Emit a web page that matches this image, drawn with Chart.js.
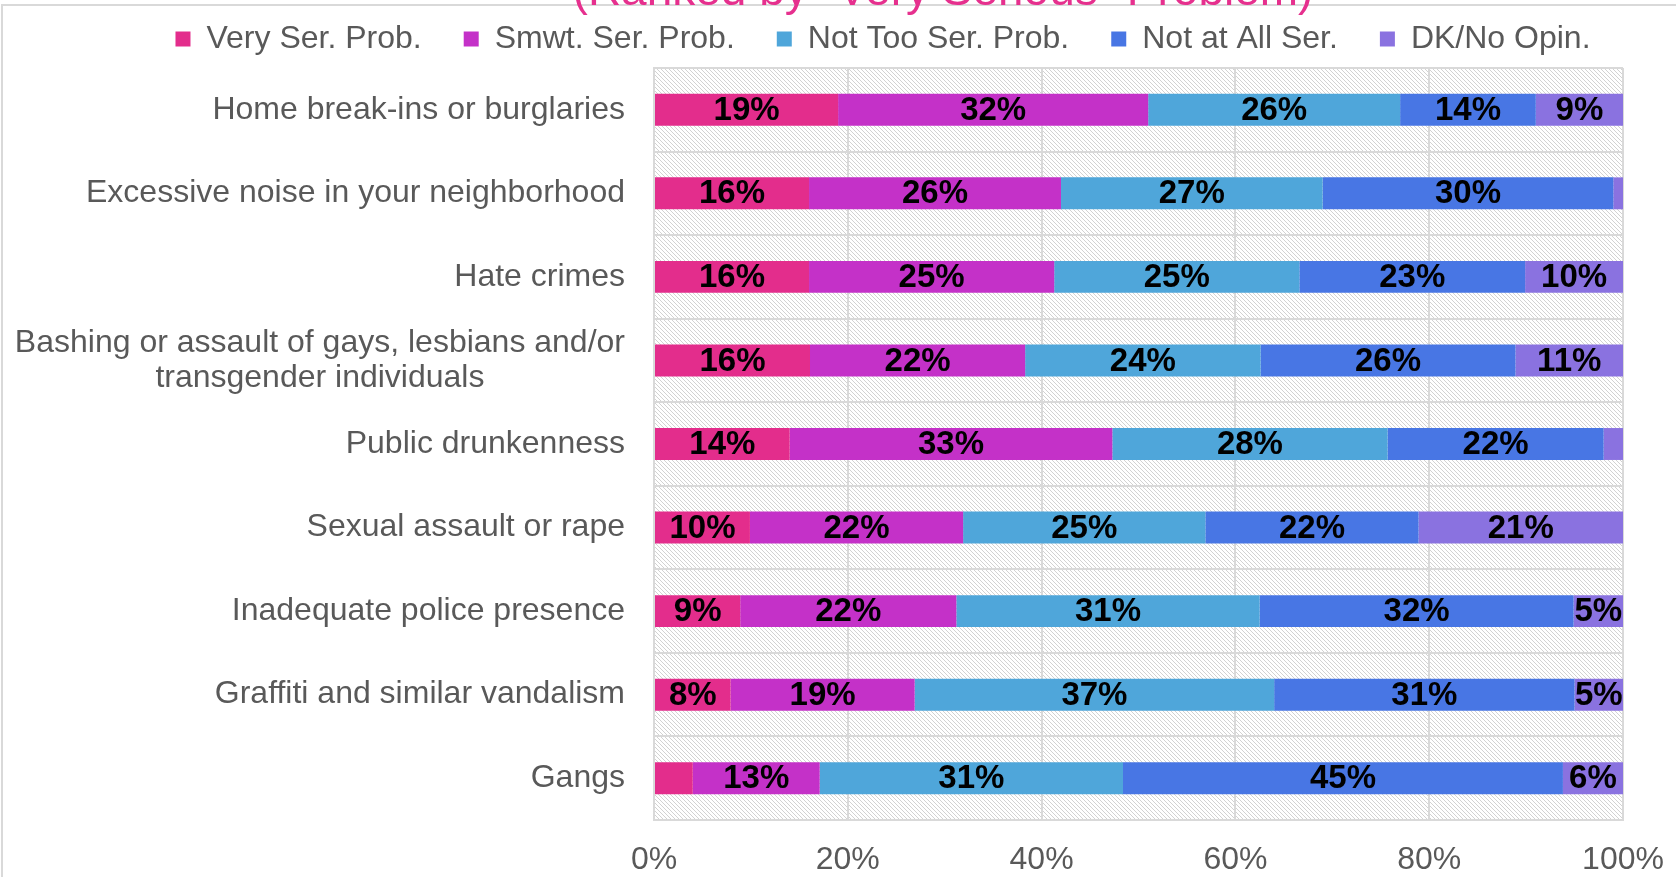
<!DOCTYPE html>
<html>
<head>
<meta charset="utf-8">
<script src="https://cdn.jsdelivr.net/npm/chart.js@4"></script>
<style>
  html, body { margin: 0; padding: 0; background: #ffffff; overflow: hidden; }
  #wrap { position: relative; width: 1676px; height: 877px; }
</style>
</head>
<body>
<div id="wrap"><canvas id="c"></canvas></div>
<script>
// ---- data ----
const chartTitle = '(Ranked by "Very Serious" Problem)';
const categories = [
  'Home break-ins or burglaries',
  'Excessive noise in your neighborhood',
  'Hate crimes',
  ['Bashing or assault of gays, lesbians and/or', 'transgender individuals'],
  'Public drunkenness',
  'Sexual assault or rape',
  'Inadequate police presence',
  'Graffiti and similar vandalism',
  'Gangs'
];
const seriesNames = ['Very Ser. Prob.', 'Smwt. Ser. Prob.', 'Not Too Ser. Prob.', 'Not at All Ser.', 'DK/No Opin.'];
const verySerious   = [19, 16, 16,   16.1, 14,   9.9,  8.9,  7.9, 4];
const smwtSerious   = [32, 26, 25.3, 22.2, 33.3, 22,   22.3, 19,   13.1];
const notTooSerious = [26, 27, 25.3, 24.3, 28.4, 25,   31.3, 37.1, 31.3];
const notAtAll      = [14, 30, 23.3, 26.3, 22.3, 22,   32.4, 31,   45.4];
const dkNoOpinion   = [9,  1,  10.1, 11.1, 2,    21.1, 5.1,  5,    6.2];
const xTicks = [0, 20, 40, 60, 80, 100];

// ---- styles ----
const colors = ['#E32D8C', '#C431C8', '#4FA6DA', '#4876E4', '#8A72E0'];
const textGray = '#595959';
const gridGray = '#d9d9d9';
const FONT = "'Liberation Sans', Arial, sans-serif";

const seriesData = [verySerious, smwtSerious, notTooSerious, notAtAll, dkNoOpinion];

// hatch pattern for plot background
function makeHatch() {
  const p = document.createElement('canvas');
  p.width = 4; p.height = 4;
  const g = p.getContext('2d');
  g.fillStyle = '#ffffff';
  g.fillRect(0, 0, 4, 4);
  g.fillStyle = '#d2d2d2';
  for (let i = 0; i < 4; i++) g.fillRect(i, i, 1, 1);
  return g.createPattern(p, 'repeat');
}

const framePlugin = {
  id: 'frame',
  beforeDraw(chart) {
    const ctx = chart.ctx;
    const a = chart.chartArea;
    ctx.save();
    ctx.fillStyle = makeHatch.cache || (makeHatch.cache = makeHatch());
    ctx.fillRect(a.left, a.top, a.right - a.left, a.bottom - a.top);
    // outer frame (top & left)
    ctx.strokeStyle = gridGray;
    ctx.lineWidth = 2;
    ctx.beginPath();
    ctx.moveTo(2, 900);
    ctx.lineTo(2, 5);
    ctx.lineTo(1700, 5);
    ctx.stroke();
    ctx.restore();
  },
  afterDraw(chart) {
    const ctx = chart.ctx;
    ctx.save();
    // title (partly cut at top)
    ctx.font = '46px ' + FONT;
    ctx.fillStyle = '#E6308E';
    ctx.textAlign = 'center';
    ctx.textBaseline = 'alphabetic';
    ctx.fillText(chartTitle, 943, 5);
    ctx.restore();
  }
};

const yLabelPlugin = {
  id: 'ylabels',
  afterDraw(chart) {
    const ctx = chart.ctx;
    const ys = chart.scales.y;
    const right = chart.chartArea.left - 29;
    ctx.save();
    ctx.font = '32px ' + FONT;
    ctx.fillStyle = textGray;
    ctx.textBaseline = 'middle';
    categories.forEach((lab, i) => {
      const y = ys.getPixelForTick(i);
      if (Array.isArray(lab)) {
        const w = Math.max(...lab.map(l => ctx.measureText(l).width));
        const cx = right - w / 2;
        const lh = 35;
        ctx.textAlign = 'center';
        lab.forEach((l, j) => {
          ctx.fillText(l, cx, y + (j - (lab.length - 1) / 2) * lh);
        });
      } else {
        ctx.textAlign = 'right';
        ctx.fillText(lab, right, y);
      }
    });
    ctx.restore();
  }
};

const valueLabelPlugin = {
  id: 'valuelabels',
  afterDatasetsDraw(chart) {
    const ctx = chart.ctx;
    ctx.save();
    ctx.font = 'bold 33px ' + FONT;
    ctx.fillStyle = '#000000';
    ctx.textAlign = 'center';
    ctx.textBaseline = 'middle';
    chart.data.datasets.forEach((ds, di) => {
      const meta = chart.getDatasetMeta(di);
      meta.data.forEach((bar, i) => {
        const v = ds.data[i];
        if (v < 4.5) return;
        const x = (bar.x + bar.base) / 2;
        ctx.fillText(Math.round(v) + '%', x, bar.y + 1);
      });
    });
    ctx.restore();
  }
};

new Chart(document.getElementById('c'), {
  type: 'bar',
  data: {
    labels: categories,
    datasets: seriesNames.map((name, k) => ({
      label: name,
      data: seriesData[k],
      backgroundColor: colors[k],
      borderWidth: 0,
      barPercentage: 0.382,
      categoryPercentage: 1
    }))
  },
  options: {
    indexAxis: 'y',
    responsive: true,
    maintainAspectRatio: false,
    animation: false,
    devicePixelRatio: 1,
    layout: { padding: { top: -19, left: 90, right: 0, bottom: 0 } },
    plugins: {
      legend: {
        position: 'top',
        align: 'center',
        labels: {
          boxWidth: 15,
          boxHeight: 15,
          padding: 42,
          color: textGray,
          font: { family: FONT, size: 32 }
        }
      },
      title: { display: false },
      tooltip: { enabled: false }
    },
    scales: {
      x: {
        stacked: true,
        min: 0,
        max: 100,
        afterBuildTicks(scale) { scale.ticks = xTicks.map(v => ({ value: v })); },
        ticks: {
          padding: 21,
          color: textGray,
          font: { family: FONT, size: 32 },
          callback: v => v + '%',
          maxRotation: 0
        },
        grid: { color: gridGray, lineWidth: 2, drawTicks: false },
        border: { color: gridGray, width: 2 },
        afterFit(scale) {
          scale.height = 57;
          scale.paddingRight = 0;
          scale.paddingLeft = 0;
        }
      },
      xTop: {
        axis: 'x',
        type: 'linear',
        position: 'top',
        min: 0,
        max: 100,
        grid: { display: false, drawTicks: false },
        ticks: { display: false },
        border: { display: false },
        afterFit(scale) { scale.height = 3; }
      },
      y: {
        stacked: true,
        ticks: { display: false },
        grid: { color: gridGray, lineWidth: 2, drawTicks: false },
        border: { color: gridGray, width: 2 },
        afterFit(scale) { scale.width = 654 - 90; }
      },
      yRight: {
        axis: 'y',
        position: 'right',
        type: 'category',
        grid: { display: false, drawTicks: false },
        ticks: { display: false },
        border: { display: false },
        afterFit(scale) { scale.width = 53; }
      }
    }
  },
  plugins: [framePlugin, yLabelPlugin, valueLabelPlugin]
});
</script>
</body>
</html>
